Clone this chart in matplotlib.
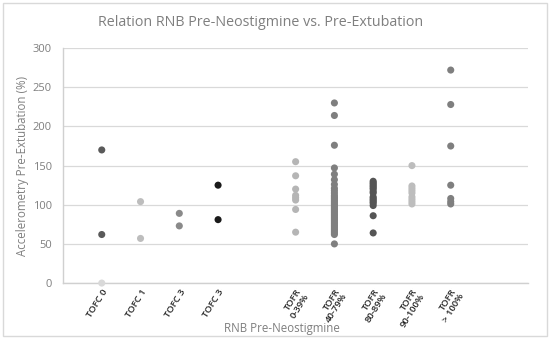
import matplotlib
matplotlib.use("Agg")
import matplotlib.pyplot as plt
from matplotlib.patches import FancyBboxPatch

plt.rcParams['font.family'] = ['Open Sans', 'DejaVu Sans']

# ---- data ----
categories = ["TOFC 0", "TOFC 1", "TOFC 3", "TOFC 3", "TOFR\n0-39%", "TOFR\n40-79%",
              "TOFR\n80-89%", "TOFR\n90-100%", "TOFR\n> 100%"]
cat_x = [1, 2, 3, 4, 6, 7, 8, 9, 10]

tofc0_a = [170, 62]
tofc0_b = [0]
tofc1 = [104, 57]
tofc3_a = [89, 73]
tofc3_b = [125, 81]
tofr_0_39 = [155, 137, 120, 112, 109, 106, 94, 65]
tofr_40_79 = [230, 214, 176, 147, 139, 132, 126, 121, 118, 115, 112, 110, 108, 106,
              104, 102, 100, 98, 96, 94, 92, 90, 88, 86, 84, 82, 80, 78, 76, 74,
              72, 70, 68, 66, 64, 62, 50]
tofr_80_89 = [130, 128, 126, 124, 122, 120, 117, 115, 110, 108, 106, 104, 102, 99, 86, 64]
tofr_90_100 = [150, 124, 121, 118, 115, 110, 107, 104, 101]
tofr_100p = [272, 228, 175, 125, 108, 104, 101]

series = [
    (cat_x[0], tofc0_a, "#5a5a5a"),
    (cat_x[0], tofc0_b, "#d9d9d9"),
    (cat_x[1], tofc1, "#bdbdbd"),
    (cat_x[2], tofc3_a, "#8a8a8a"),
    (cat_x[3], tofc3_b, "#1a1a1a"),
    (cat_x[4], tofr_0_39, "#b5b5b5"),
    (cat_x[5], tofr_40_79, "#7f7f7f"),
    (cat_x[6], tofr_80_89, "#555555"),
    (cat_x[7], tofr_90_100, "#bdbdbd"),
    (cat_x[8], tofr_100p, "#7f7f7f"),
]

y_ticks = [0, 50, 100, 150, 200, 250, 300]

# ---- figure ----
fig = plt.figure(figsize=(5.5, 3.39), dpi=100)
border = FancyBboxPatch((0.006, 0.01), 0.988, 0.98, boxstyle="square,pad=0",
                        transform=fig.transFigure, fill=False,
                        edgecolor="#d9d9d9", linewidth=1.0)
fig.patches.append(border)

ax = fig.add_axes([0.1145, 0.165, 0.846, 0.693])
for x, vals, col in series:
    ax.scatter([x] * len(vals), vals, s=26, color=col, edgecolors='none', zorder=3,
               clip_on=False)

ax.set_xlim(0, 12)
ax.set_ylim(0, 300)
ax.set_yticks(y_ticks)
ax.set_yticklabels([str(v) for v in y_ticks], color="#7f7f7f", fontsize=8)
ax.tick_params(axis='y', length=0, pad=8)
ax.grid(axis='y', color="#d9d9d9", linewidth=0.9)
ax.set_axisbelow(True)

ax.set_xticks(cat_x)
ax.set_xticklabels(categories, rotation=58, ha='right', va='top',
                   rotation_mode='anchor', fontsize=6.8, color="#262626",
                   fontweight='semibold', linespacing=0.95)
ax.tick_params(axis='x', length=0, pad=3)

for s in ['top', 'right']:
    ax.spines[s].set_visible(False)
for s in ['left', 'bottom']:
    ax.spines[s].set_color("#d0d0d0")
    ax.spines[s].set_linewidth(1.0)

ax.set_ylabel("Accelerometry Pre-Extubation (%)", color="#7f7f7f", fontsize=8.3, labelpad=3)
fig.text(0.513, 0.0295, "RNB Pre-Neostigmine", color="#7f7f7f", fontsize=8.3,
         ha='center', va='center')
fig.text(0.473, 0.935, "Relation RNB Pre-Neostigmine vs. Pre-Extubation",
         color="#7f7f7f", fontsize=10.3, ha='center', va='center')

fig.savefig("out.png", dpi=100)
